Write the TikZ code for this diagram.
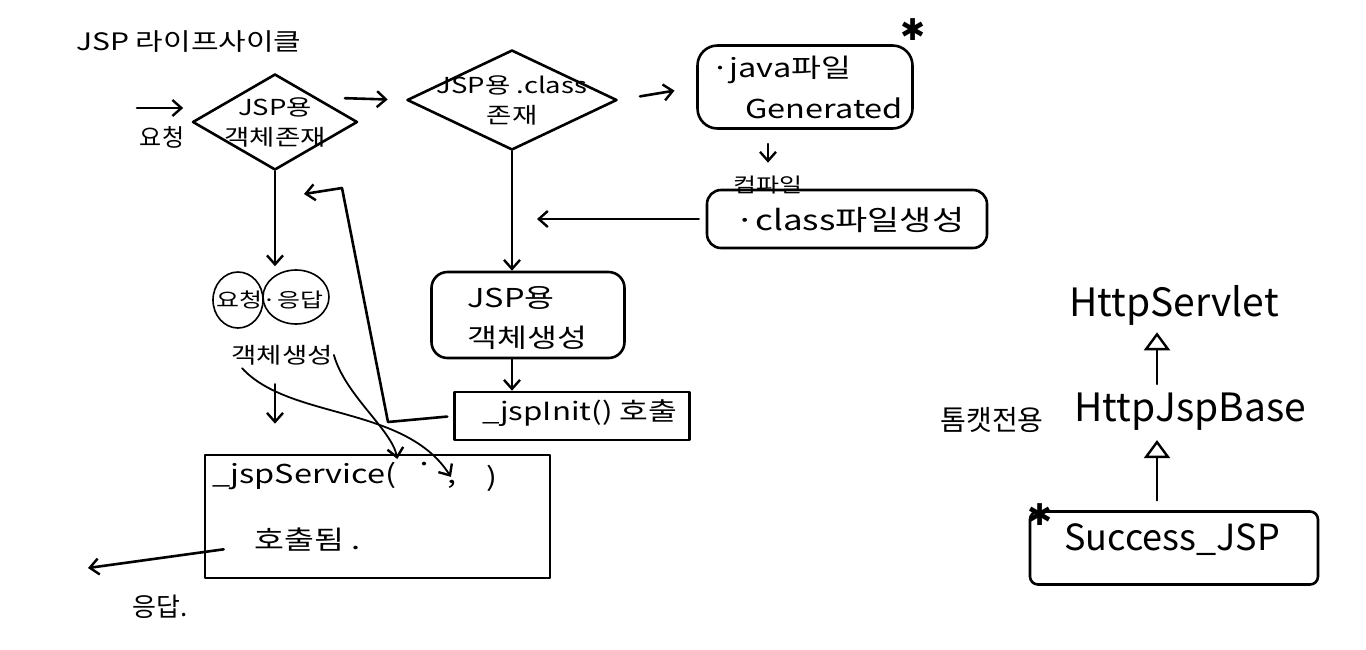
\documentclass[tikz,border=0pt]{standalone}
\usepackage{fontspec}
\setmainfont{Noto Sans CJK KR}
\newfontfamily\hw[FakeStretch=1.25]{Noto Sans CJK KR}
\newfontfamily\symfont{DejaVu Sans}
\usetikzlibrary{arrows.meta,shapes.geometric,calc}
\begin{document}
\begin{tikzpicture}[x=1pt,y=-1pt,line width=2.6pt,line cap=round,line join=round,
  arr/.style={-{Straight Barb[length=9pt,width=16pt,line width=2.4pt]}},
  inh/.style={-{Triangle[open,length=18pt,width=26pt,line width=2.4pt]}},
  txt/.style={inner sep=0pt,font=\hw\fontsize{24}{30}\selectfont},
  big/.style={inner sep=0pt,font=\fontsize{39}{44}\selectfont},
  dia/.style={draw,diamond,inner sep=0pt},
  boxn/.style={draw,rectangle,inner sep=0pt},
  starmark/.style={inner sep=0pt,font=\symfont\fontsize{30}{30}\selectfont}]
\useasboundingbox (0,0) rectangle (1366,649);

% title
\node[txt,anchor=west] (title) at (75,42) {JSP 라이프사이클};

% request
\coordinate (reqS) at (137,108);
\node[inner sep=0pt,font=\fontsize{24}{28}\selectfont] (req) at (162,137) {요청};

% diamond 1
\node[dia,minimum width=165pt,minimum height=96pt] (d1) at (275,122) {};
\node[txt,align=center,font=\hw\fontsize{22}{30}\selectfont] (d1t) at (d1) {JSP용\\객체존재};
\draw[arr,shorten >=8pt] (reqS) -- (reqS -| d1.west);

% diamond 2
\node[dia,minimum width=210pt,minimum height=100pt] (d2) at (512,100) {};
\node[txt,align=center,font=\hw\fontsize{22}{30}\selectfont] (d2t) at (d2) {JSP용 .class\\존재};
\draw[arr,shorten <=28pt,shorten >=18pt] (d1.north east) -- (d2.west);

% java file box
\node[boxn,rounded corners=20pt,minimum width=215pt,minimum height=83pt] (java) at (805,87) {};
\node[txt,anchor=west,font=\hw\fontsize{26}{30}\selectfont] (javat1) at (710,70) {·java파일};
\node[txt,anchor=west,font=\hw\fontsize{26}{30}\selectfont] (javat2) at (744,108) {Generated};
\node[starmark] (mk1) at (913,30) {✱};
\draw[arr,shorten <=22pt,shorten >=22pt] (d2.east) -- (java.west);

% compile
\node[txt,font=\hw\fontsize{20}{24}\selectfont] (comp) at (768,185) {컴파일};
\draw[arr,line width=2pt,shorten <=14pt,shorten >=12pt] (java.south -| comp.north) -- (comp.north);

% class file box
\node[boxn,rounded corners=14pt,minimum width=280pt,minimum height=58pt] (cls) at (847,219) {};
\node[txt,font=\hw\fontsize{28}{32}\selectfont] (clst) at (850,220) {·class파일생성};
\draw[arr,shorten <=7pt,shorten >=25pt] (cls.west) -- (cls.west -| d2.south);

% JSP object creation box
\node[boxn,rounded corners=16pt,minimum width=193pt,minimum height=86pt] (obj) at (528,315) {};
\node[txt,align=left,anchor=west,font=\hw\fontsize{26}{40}\selectfont] (objt) at (466,318) {JSP용\\객체생성};
\draw[arr] (d2.south) -- (d2.south |- obj.north);

% jspInit box
\node[boxn,minimum width=235pt,minimum height=48pt] (init) at (572,416) {};
\node[txt,font=\hw\fontsize{25}{30}\selectfont] (initt) at (580,413) {\_jspInit() 호출};
\draw[arr] (d2.south |- obj.south) -- (d2.south |- init.north);

% return from jspInit back to left flow
\coordinate (r1) at (388,422);
\coordinate (r2) at (342,188);
\coordinate (r3) at (304,194);
\draw[arr,shorten <=6pt] (init.west) -- (r1) -- (r2) -- (r3);

% request/response objects
\node[draw,ellipse,line width=1.6pt,minimum width=50pt,minimum height=56pt,inner sep=0pt] (e1) at (238,300) {};
\node[draw,ellipse,line width=1.6pt,minimum width=66pt,minimum height=54pt,inner sep=0pt] (e2) at (296,297) {};
\node[txt,font=\hw\fontsize{20}{24}\selectfont] (rrt) at (270,300) {요청·응답};
\node[txt,font=\hw\fontsize{22}{26}\selectfont] (gen) at (282,355) {객체생성};
\draw[arr,shorten >=3pt] (d1.south) -- (d1.south |- e2.north);

% jspService box
\node[boxn,minimum width=345pt,minimum height=123pt] (svc) at (377.5,516.5) {};
\node[txt,anchor=west,font=\hw\fontsize{26}{30}\selectfont] (svct) at (211,476) {\_jspService(};
\node[txt,font=\hw\fontsize{26}{30}\selectfont] (sdot) at (425,468) {·};
\node[txt,font=\hw\fontsize{26}{30}\selectfont] (scom) at (452,484) {,};
\node[txt,font=\hw\fontsize{26}{30}\selectfont] (sclo) at (492,478) {)};
\node[txt,anchor=west,font=\hw\fontsize{26}{30}\selectfont] (svct2) at (253,540) {호출됨 .};
\draw[arr,line width=1.8pt,shorten >=2pt] ($(gen.south west)+(12,2)$) .. controls (290,420) and (405,405) .. (scom.north);
\draw[arr,line width=1.8pt,shorten >=2pt] (gen.east) .. controls (345,395) and (392,430) .. (svct.north east);
\draw[arr,shorten <=18pt,shorten >=30pt] (gen.south -| d1.south) -- (d1.south |- svc.north);

% response
\coordinate (respE) at (88,568);
\draw[arr] ($(svc.south west)+(20,-30)$) -- (respE);
\node[inner sep=0pt,font=\fontsize{26}{30}\selectfont] (resp) at (160,607) {응답.};

% class hierarchy
\coordinate (ax) at (1157,0);
\node[big] (hs) at (1174,305) {HttpServlet};
\node[big] (base) at (1190,412) {HttpJspBase};
\node[inner sep=0pt,font=\fontsize{28}{32}\selectfont] (tom) at (992,420) {톰캣전용};
\node[boxn,rounded corners=8pt,minimum width=288pt,minimum height=73pt] (succ) at (1174,548) {};
\node[inner sep=0pt,font=\fontsize{36}{40}\selectfont] (succt) at (1172,540) {Success\_JSP};
\node[starmark] (mk2) at (1040,515) {✱};
\draw[inh,shorten <=8pt,shorten >=6pt] (base.north -| ax) -- (hs.south -| ax);
\draw[inh,shorten <=10pt,shorten >=8pt] (succ.north -| ax) -- (base.south -| ax);
\end{tikzpicture}
\end{document}
